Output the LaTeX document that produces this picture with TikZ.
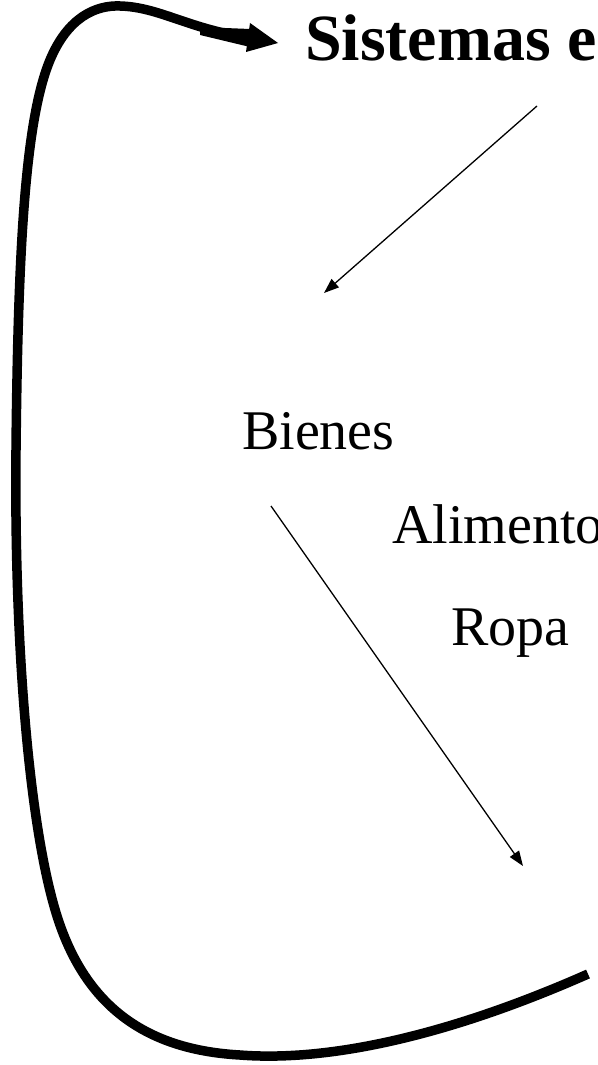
\documentclass[tikz,border=0pt]{standalone}
\usepackage{fontspec}
\setmainfont{Liberation Serif}
\usetikzlibrary{arrows.meta}
\begin{document}
\begin{tikzpicture}[x=1pt,y=-1pt,
  lbl/.style={anchor=base west,inner sep=0pt,font=\fontsize{56}{60}\selectfont},
  ttl/.style={anchor=base west,inner sep=0pt,font=\fontsize{66}{72}\selectfont\bfseries},
  thinarrow/.style={line width=1.3pt,-{Triangle[length=15pt,width=11pt]}},
  loopline/.style={line width=9.5pt,line join=round}]
\useasboundingbox (0,0) rectangle (597,1065);
\clip (0,0) rectangle (597,1065);
% texts
\node[ttl] (sis) at (305,60) {Sistemas e};
\node[lbl] (bie) at (242,449) {Bienes};
\node[lbl] (ali) at (392,543) {Alimento};
\node[lbl] (rop) at (451,645) {Ropa};
% thin arrows
\coordinate (a1s) at (537,106);
\coordinate (a1e) at (324,293);
\coordinate (a2s) at (271,506);
\coordinate (a2e) at (523,866);
\draw[thinarrow] (a1s) -- (a1e);
\draw[thinarrow] (a2s) -- (a2e);
% big loop
\coordinate (lstart) at (588,974);
\coordinate (lend) at (252,38);
\draw[loopline] (lstart)
  .. controls (450,1035) and (330,1062) .. (240,1055)
  .. controls (150,1050) and (90,1010) .. (60,925)
  .. controls (30,840) and (14,650) .. (16,450)
  .. controls (18,250) and (25,120) .. (50,60)
  .. controls (68,17) and (96,5) .. (120,6)
  .. controls (160,7) and (190,30) .. (lend);
\fill (250,23) -- (278,43) -- (246,52) -- cycle;
\fill (200,27) -- (250,29) -- (250,47) -- (200,35) -- cycle;
\end{tikzpicture}
\end{document}
